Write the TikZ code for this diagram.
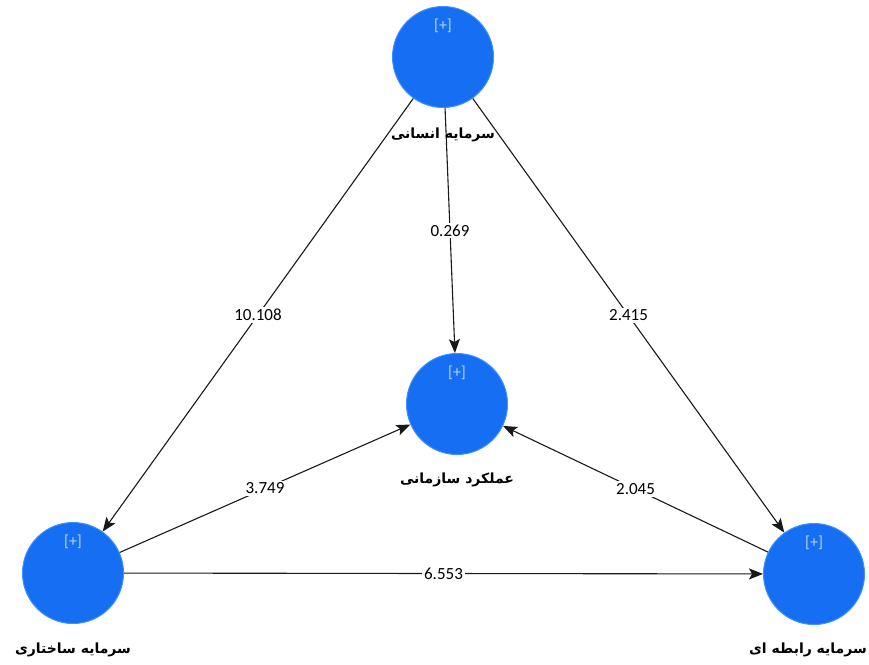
\documentclass[tikz,border=0pt]{standalone}
\usepackage{fontspec}
\setmainfont{Carlito}
\newfontfamily\arabicfont[Script=Arabic]{DejaVu Sans}
\TeXXeTstate=1
\usetikzlibrary{arrows.meta}

\definecolor{latentblue}{RGB}{22,110,242}
\definecolor{latentrim}{RGB}{60,145,255}
\definecolor{plusgray}{RGB}{185,212,250}
\definecolor{pathgray}{RGB}{25,25,25}

\tikzset{
  latent/.style={circle, minimum size=101pt, inner sep=0pt, fill=latentblue,
                 draw=latentrim, line width=1pt},
  plusmark/.style={text=plusgray, inner sep=0pt, font=\fontsize{16}{16}\selectfont},
  latentname/.style={inner sep=0pt, text=black, font=\fontsize{14}{14}\selectfont},
  pathcoef/.style={fill=white, inner sep=2pt, text=black, font=\fontsize{17}{17}\selectfont},
  pathline/.style={draw=pathgray, line width=1.1pt,
                   -{Stealth[length=14pt,width=11pt,inset=3pt]}},
}

\begin{document}
\begin{tikzpicture}[x=1pt,y=-1pt]
  \fill[white] (0,0) rectangle (869,664);
  \useasboundingbox (0,0) rectangle (869,664);

  % latent variables
  \node[latent] (hc) at (443,57)  {};
  \node[latent] (op) at (457,404) {};
  \node[latent] (sc) at (73,573)  {};
  \node[latent] (rc) at (814,574) {};

  % expand markers
  \node[plusmark] (hc-plus) at ([yshift=31pt]hc.center) {[+]};
  \node[plusmark] (op-plus) at ([yshift=31pt]op.center) {[+]};
  \node[plusmark] (sc-plus) at ([yshift=31pt]sc.center) {[+]};
  \node[plusmark] (rc-plus) at ([yshift=31pt]rc.center) {[+]};

  % structural paths with coefficients
  \draw[pathline] (hc) -- node[pathcoef] (c1) {10.108} (sc);
  \draw[pathline] (hc) -- node[pathcoef] (c2) {0.269} (op);
  \draw[pathline] (hc) -- node[pathcoef] (c3) {2.415} (rc);
  \draw[pathline] (sc) -- node[pathcoef] (c4) {3.749} (op);
  \draw[pathline] (rc) -- node[pathcoef] (c5) {2.045} (op);
  \draw[pathline] (sc) -- node[pathcoef] (c6) {6.553} (rc);

  % construct names
  \node[latentname] (hc-name) at ([yshift=-78pt]hc.center) {\arabicfont\bfseries\beginR سرمایه انسانی\endR};
  \node[latentname] (op-name) at ([yshift=-76pt]op.center) {\arabicfont\bfseries\beginR عملکرد سازمانی\endR};
  \node[latentname] (sc-name) at ([yshift=-77pt]sc.center) {\arabicfont\bfseries\beginR سرمایه ساختاری\endR};
  \node[latentname] (rc-name) at ([yshift=-76pt,xshift=-6pt]rc.center) {\arabicfont\bfseries\beginR سرمایه رابطه ای\endR};
\end{tikzpicture}
\end{document}
